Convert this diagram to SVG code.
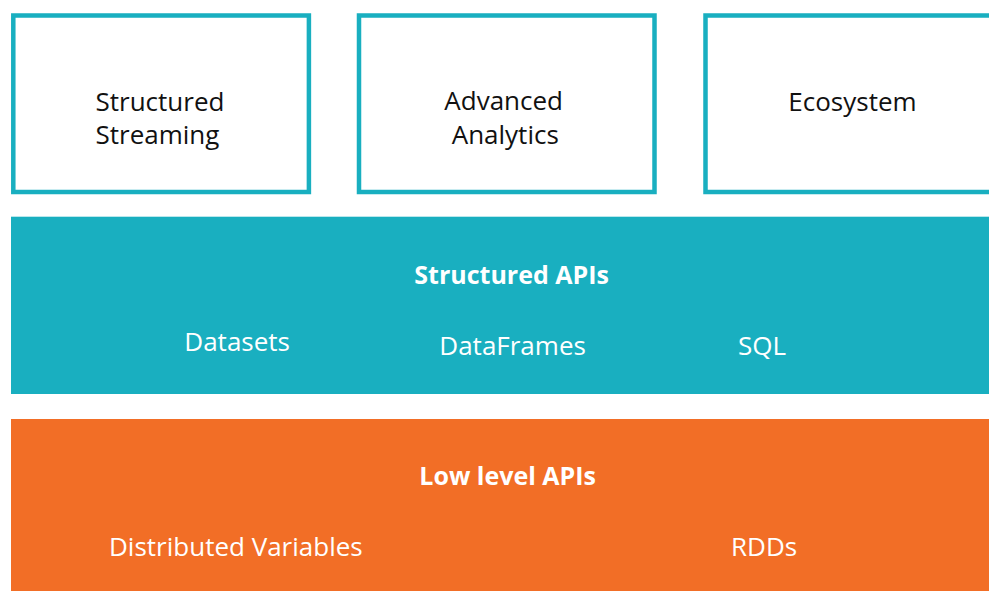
<svg xmlns="http://www.w3.org/2000/svg" width="989" height="591" viewBox="0 0 989 591">
<style>
.box{fill:#fff;stroke:#19AFC0;stroke-width:4.5}
.t{font-family:"Open Sans","Noto Sans",sans-serif;font-size:26px;fill:#111}
.w{font-family:"Open Sans","Noto Sans",sans-serif;font-size:26px;fill:#fff}
.b{font-weight:bold;font-size:25px}
</style>
<rect width="989" height="591" fill="#fff"/>
<g id="structured-streaming">
<rect class="box" x="13.3" y="15.5" width="295.6" height="176.5"/>
<text class="t" x="95.5" y="111">Structured</text>
<text class="t" x="95.5" y="144">Streaming</text>
</g>
<g id="advanced-analytics">
<rect class="box" x="359" y="15.5" width="295.5" height="176.5"/>
<text class="t" x="444.3" y="110">Advanced</text>
<text class="t" x="451.7" y="143.5">Analytics</text>
</g>
<g id="ecosystem">
<rect class="box" x="705.5" y="15.5" width="290" height="176.5"/>
<text class="t" x="788.3" y="111">Ecosystem</text>
</g>
<g id="structured-apis">
<rect x="11" y="216.7" width="978" height="177.3" fill="#19AFC0"/>
<text class="w b" x="414.3" y="284">Structured APIs</text>
<text class="w" x="184.3" y="350.7">Datasets</text>
<text class="w" x="439.3" y="355">DataFrames</text>
<text class="w" x="738" y="355">SQL</text>
</g>
<g id="low-level-apis">
<rect x="11" y="419" width="978" height="172" fill="#F26E26"/>
<text class="w b" x="419.3" y="485">Low level APIs</text>
<text class="w" x="109" y="555.7">Distributed Variables</text>
<text class="w" x="731" y="555.7">RDDs</text>
</g>
<g id="connectors"/>
</svg>
